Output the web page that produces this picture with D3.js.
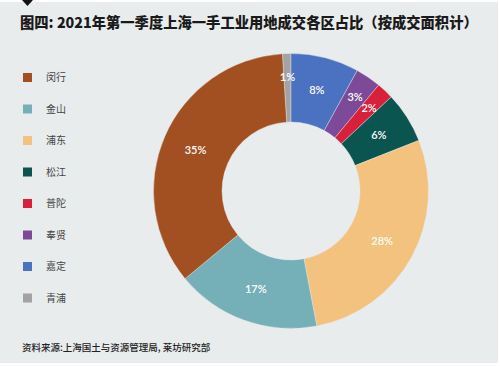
<!DOCTYPE html>
<html><head><meta charset="utf-8">
<script src="https://cdn.jsdelivr.net/npm/d3@7"></script>
<style>
html,body{margin:0;padding:0;background:#fff;}
svg{display:block;}
</style></head>
<body>
<svg id="c" width="500" height="366"></svg>
<script>
const title = "图四: 2021年第一季度上海一手工业用地成交各区占比（按成交面积计）";
const source = "资料来源:上海国土与资源管理局, 莱坊研究部";
const districts = ["闵行","金山","浦东","松江","普陀","奉贤","嘉定","青浦"];
const shares = [35,17,28,6,2,3,8,1];
const colors = ["#a24f21","#75afb7","#f3c27e","#0b5550","#d8203a","#7c4a99","#4a72c0","#a3a3a3"];

const svg = d3.select("#c");
const font = "'Noto Sans CJK SC','Noto Sans',sans-serif";

svg.append("rect").attr("x",0).attr("y",2).attr("width",498).attr("height",361).attr("fill","#e9eced");
svg.append("path").attr("d","M22,0 L33,0 L27.5,6 Z").attr("fill","#111");

svg.append("text").attr("x",20).attr("y",28).attr("font-family",font).attr("font-weight",900)
  .attr("font-size",14.3).attr("fill","#1a1a1a").text(title);

svg.append("text").attr("x",22).attr("y",351).attr("font-family",font).attr("font-weight",500)
  .attr("font-size",9.5).attr("fill","#222").text(source);

// legend
const ly = d3.scalePoint().domain(districts).range([77.5,298]);
const lg = svg.append("g").selectAll("g").data(districts).join("g")
  .attr("transform",d=>`translate(0,${ly(d)})`);
lg.append("rect").attr("x",23).attr("y",-4.5).attr("width",9).attr("height",9)
  .attr("fill",(d,i)=>colors[i]);
lg.append("text").attr("x",46).attr("y",3.5).attr("font-family",font).attr("font-size",10)
  .attr("fill","#444").text(d=>d);

// donut
const data = districts.map((d,i)=>({name:d,value:shares[i],color:colors[i]})).reverse();
const total = d3.sum(shares);
const a0 = -2*Math.PI*data[0].value/total;
const pie = d3.pie().sort(null).value(d=>d.value).startAngle(a0).endAngle(a0+2*Math.PI);
const arcs = pie(data);
const cx = 291, cy = 191, ro = 137.5, ri = 69;
const arc = d3.arc().innerRadius(ri).outerRadius(ro);
const g = svg.append("g").attr("transform",`translate(${cx},${cy})`);
g.selectAll("path").data(arcs).join("path").attr("d",arc).attr("fill",d=>d.data.color)
  .attr("stroke","#e9eced").attr("stroke-width",0.4);
g.selectAll("text").data(arcs).join("text")
  .attr("transform",d=>{
    const m=(d.startAngle+d.endAngle)/2;
    const r = d.data.value<5 ? 114 : 104;
    return `translate(${r*Math.sin(m)},${-r*Math.cos(m)})`;
  })
  .attr("text-anchor","middle").attr("dy","0.35em")
  .attr("font-family","Lato,'Noto Sans',sans-serif").attr("font-weight",600).attr("font-size",11)
  .attr("fill","#fff").text(d=>d.data.value+"%");
</script>
</body></html>
